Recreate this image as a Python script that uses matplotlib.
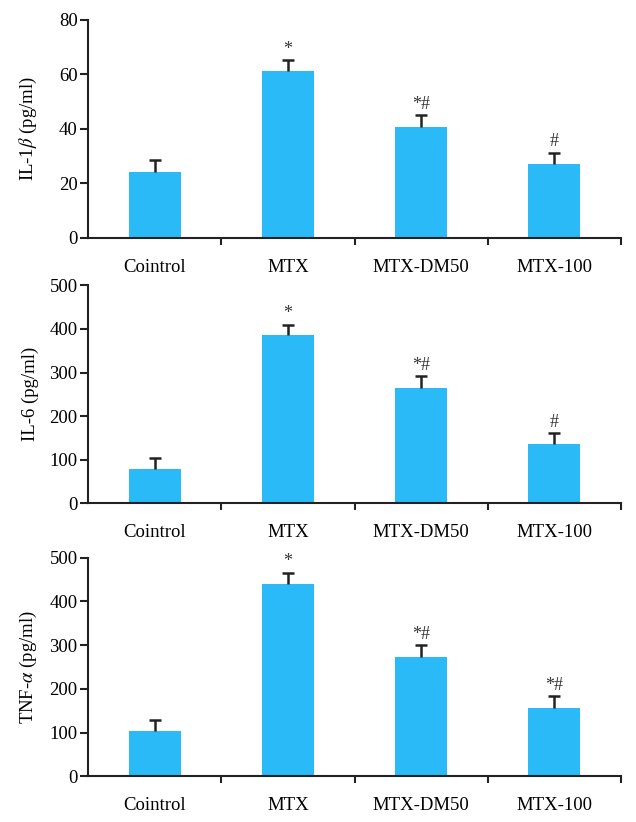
import numpy as np
import matplotlib
matplotlib.use('Agg')
import matplotlib.pyplot as plt

plt.rcParams['font.family'] = ['Liberation Serif', 'DejaVu Serif']
plt.rcParams['mathtext.fontset'] = 'stix'

groups = ['Cointrol', 'MTX', 'MTX-DM50', 'MTX-100']

il1b_mean = [24.3, 61.2, 40.8, 27.2]
il1b_err = [4.2, 4.0, 4.2, 4.0]
il1b_marks = ['', '*', '*#', '#']

il6_mean = [79, 385, 265, 136]
il6_err = [25, 25, 26, 25]
il6_marks = ['', '*', '*#', '#']

tnf_mean = [104, 440, 273, 156]
tnf_err = [25, 25, 27, 27]
tnf_marks = ['', '*', '*#', '*#']

ylabels = [r'IL-1$\beta$ (pg/ml)', 'IL-6 (pg/ml)', r'TNF-$\alpha$ (pg/ml)']
ymaxes = [80, 500, 500]
ysteps = [20, 100, 100]

bar_color = '#29BAF7'
line_color = '#222222'

fig = plt.figure(figsize=(6.36, 8.22), dpi=100)
# axes boxes in figure fractions [left, bottom, width, height]
boxes = [
    [0.1384, 0.7105, 0.838, 0.2652],
    [0.1384, 0.3877, 0.838, 0.2652],
    [0.1384, 0.0556, 0.838, 0.2659],
]

data = [
    (il1b_mean, il1b_err, il1b_marks),
    (il6_mean, il6_err, il6_marks),
    (tnf_mean, tnf_err, tnf_marks),
]

x = np.arange(len(groups))
for i, (means, errs, marks) in enumerate(data):
    ax = fig.add_axes(boxes[i])
    ax.bar(x, means, width=0.39, color=bar_color, zorder=2)
    tops = np.array(means) + np.array(errs)
    # upper error bar only: stem + cap
    ax.vlines(x, means, tops, color=line_color, linewidth=1.8, zorder=3)
    ax.plot(x, tops, linestyle='none', marker='_', markersize=9,
            markeredgewidth=1.8, color=line_color, zorder=3)
    ymax = ymaxes[i]
    for xi, t, s in zip(x, tops, marks):
        if s:
            ax.text(xi, t + ymax * 0.012, s, ha='center', va='bottom',
                    fontsize=13, color='#333333')

    ax.set_xlim(-0.5, 3.5)
    ax.set_ylim(0, ymax)
    ax.set_yticks(np.arange(0, ymax + 1, ysteps[i]))
    ax.set_xticks(x)
    ax.set_xticklabels(groups)
    ax.set_xticks([0.5, 1.5, 2.5, 3.5], minor=True)
    ax.tick_params(axis='x', which='major', length=0, pad=15, labelsize=13.5)
    ax.tick_params(axis='x', which='minor', length=5, width=1.5, color=line_color,
                   direction='out')
    ax.tick_params(axis='y', length=6, width=1.5, color=line_color,
                   labelsize=13.5, pad=1.5)
    ax.set_ylabel(ylabels[i], fontsize=13.5)
    ax.yaxis.set_label_coords(-0.092, 0.5)

    for side in ['top', 'right']:
        ax.spines[side].set_visible(False)
    for side in ['left', 'bottom']:
        ax.spines[side].set_linewidth(1.5)
        ax.spines[side].set_color(line_color)

fig.savefig('out.png', dpi=100)
